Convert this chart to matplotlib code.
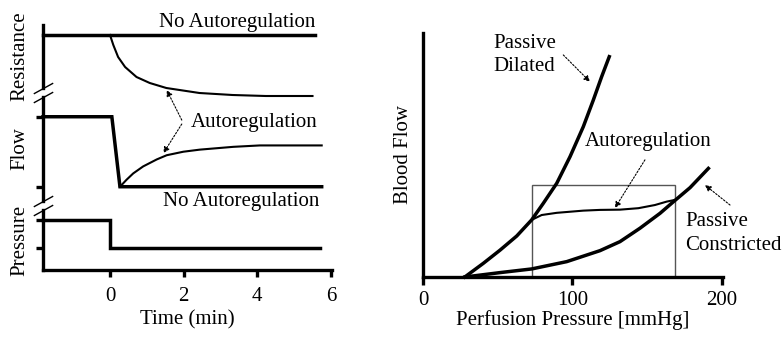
import matplotlib
matplotlib.use("Agg")
import matplotlib.pyplot as plt
from matplotlib.patches import Rectangle

plt.rcParams['font.family'] = ['Liberation Serif', 'DejaVu Serif']
plt.rcParams['font.size'] = 15

# --- left: time course after a pressure step ---
t_res_none = [-1.82, 5.57]
res_none = [1.0, 1.0]
t_res_auto = [0, 0.09, 0.22, 0.41, 0.72, 1.08, 1.53, 2.43, 3.33, 4.23, 5.5]
res_auto = [1.0, 0.90, 0.78, 0.68, 0.58, 0.52, 0.47, 0.42, 0.40, 0.39, 0.39]

t_flow_none = [-1.82, 0.05, 0.27, 5.75]
flow_none = [1.0, 1.0, 0.5, 0.5]
t_flow_auto = [0.27, 0.45, 0.63, 0.90, 1.27, 1.54, 1.99, 2.44, 3.35, 4.07, 5.75]
flow_auto = [0.50, 0.55, 0.595, 0.645, 0.695, 0.725, 0.75, 0.765, 0.785, 0.795, 0.795]

t_press = [-1.82, 0.0, 0.0, 5.70]
press = [1.0, 1.0, 0.7, 0.7]
time_ticks = [0, 2, 4, 6]

# --- right: pressure-flow relations ---
dil_p = [28, 40.4, 51.6, 62.8, 72.8, 80.6, 89.6, 98.5, 107.4, 114.1, 119.7, 124.8]
dil_f = [0, 5.6, 11.0, 16.8, 23.4, 30.2, 38.4, 49.3, 61.6, 72.5, 82.1, 90.3]
con_p = [28, 51.6, 72.8, 96.3, 118.6, 132, 145.4, 158.8, 167.7, 178.9, 191.2]
con_f = [0, 1.8, 3.3, 6.3, 10.8, 14.5, 20.0, 26.1, 30.8, 36.6, 44.5]
auto_p = [72.8, 79.5, 89.6, 107.4, 118.6, 132, 144.3, 155.4, 163.3, 168.8]
auto_f = [23.4, 25.4, 26.3, 27.2, 27.5, 27.6, 28.2, 29.5, 30.9, 31.6]
auto_range = (72.8, 168.8)
auto_box_top = 37.7
press_ticks = [0, 100, 200]

W, H = 784, 337
fig = plt.figure(figsize=(W / 100, H / 100), dpi=100)


def px_box(x0, y0, x1, y1):
    return [x0 / W, 1 - y1 / H, (x1 - x0) / W, (y1 - y0) / H]


SPINE = 2.4
THICK = 2.5
THIN = 1.5

ax_r = fig.add_axes(px_box(43, 25, 332, 88))
ax_f = fig.add_axes(px_box(43, 97, 332, 201))
ax_p = fig.add_axes(px_box(43, 210, 332, 270))

for ax in (ax_r, ax_f, ax_p):
    ax.set_xlim(-1.82, 6.03)
    ax.patch.set_visible(False)
    for s in ('top', 'right'):
        ax.spines[s].set_visible(False)
    ax.spines['left'].set_linewidth(SPINE)
    ax.spines['bottom'].set_linewidth(SPINE)
    ax.tick_params(width=SPINE, length=5, direction='out')
    ax.set_yticklabels([])

for ax in (ax_r, ax_f):
    ax.spines['bottom'].set_visible(False)
    ax.set_xticks([])

ax_r.set_ylim(0.47, 1.10)
ax_r.set_yticks([])
ax_f.set_ylim(0.398, 1.141)
ax_f.set_yticks([0.5, 1.0])
ax_f.set_yticklabels([])
ax_p.set_ylim(0.47, 1.106)
ax_p.set_yticks([0.7, 1.0])
ax_p.set_yticklabels([])
ax_p.set_xticks(time_ticks)
ax_p.tick_params(axis='x', pad=7)
ax_p.set_xlabel('Time (min)', labelpad=3)

ax_r.plot(t_res_none, res_none, color='k', lw=THICK, clip_on=False)
ax_r.plot(t_res_auto, res_auto, color='k', lw=THIN, clip_on=False)
ax_f.plot(t_flow_none, flow_none, color='k', lw=THICK, clip_on=False,
          solid_joinstyle='miter')
ax_f.plot(t_flow_auto, flow_auto, color='k', lw=THIN, clip_on=False)
ax_p.plot(t_press, press, color='k', lw=THICK, clip_on=False,
          solid_joinstyle='miter')

for ax, name in ((ax_r, 'Resistance'), (ax_f, 'Flow'), (ax_p, 'Pressure')):
    ax.set_ylabel(name)
    ax.yaxis.set_label_coords(-0.046, 0.5)

# axis break marks
brk = dict(marker=[(-1, -0.55), (1, 0.55)], markersize=14, color='k',
           mew=1.0, linestyle='none', clip_on=False)
ax_r.plot([0], [0], transform=ax_r.transAxes, **brk)
ax_f.plot([0], [1], transform=ax_f.transAxes, **brk)
ax_f.plot([0], [0], transform=ax_f.transAxes, **brk)
ax_p.plot([0], [1], transform=ax_p.transAxes, **brk)

ax_r.text(5.57, 1.03, 'No Autoregulation', ha='right', va='bottom')
ax_f.text(5.65, 1.03, 'Autoregulation', ha='right', va='top')
ax_f.text(5.70, 0.462, 'No Autoregulation', ha='right', va='top')

dotted = dict(arrowstyle='-|>', color='k', lw=0.8, linestyle=(0, (1.5, 1.5)),
              mutation_scale=9, shrinkA=0, shrinkB=0)
ax_f.annotate('', xy=(1.54, 0.45), xycoords=ax_r.transData,
              xytext=(1.95, 0.976), textcoords=ax_f.transData,
              arrowprops=dotted)
ax_f.annotate('', xy=(1.45, 0.74), xytext=(1.95, 0.948),
              arrowprops=dotted)

# right panel
ax2 = fig.add_axes(px_box(423, 33, 723, 277))
ax2.set_xlim(0, 201)
ax2.set_ylim(0, 100)
for s in ('top', 'right'):
    ax2.spines[s].set_visible(False)
ax2.spines['left'].set_linewidth(SPINE)
ax2.spines['bottom'].set_linewidth(SPINE)
ax2.set_yticks([])
ax2.set_xticks(press_ticks)
ax2.tick_params(axis='x', width=SPINE, length=6, pad=4)
ax2.set_xlabel('Perfusion Pressure [mmHg]', labelpad=0)
ax2.set_ylabel('Blood Flow')
ax2.yaxis.set_label_coords(-0.032, 0.5)

ax2.add_patch(Rectangle((auto_range[0], 0), auto_range[1] - auto_range[0],
                        auto_box_top, fill=False, edgecolor='#555555', lw=1.0))
ax2.plot(dil_p, dil_f, color='k', lw=THICK, clip_on=False)
ax2.plot(con_p, con_f, color='k', lw=THICK, clip_on=False)
ax2.plot(auto_p, auto_f, color='k', lw=THIN, clip_on=False)

ax2.text(46.9, 99.5, 'Passive\nDilated', ha='left', va='top', linespacing=1.3)
ax2.text(108.5, 55.5, 'Autoregulation', ha='left', va='center')
ax2.text(175.5, 26.5, 'Passive\nConstricted', ha='left', va='top',
         linespacing=1.3)
ax2.annotate('', xy=(111.9, 80.0), xytext=(94.0, 91.0), arrowprops=dotted,
             annotation_clip=False)
ax2.annotate('', xy=(128.6, 28.3), xytext=(148.7, 48.0), arrowprops=dotted,
             annotation_clip=False)
ax2.annotate('', xy=(188.9, 37.7), xytext=(205.7, 29.5), arrowprops=dotted,
             annotation_clip=False)

fig.savefig('out.png', dpi=100)
